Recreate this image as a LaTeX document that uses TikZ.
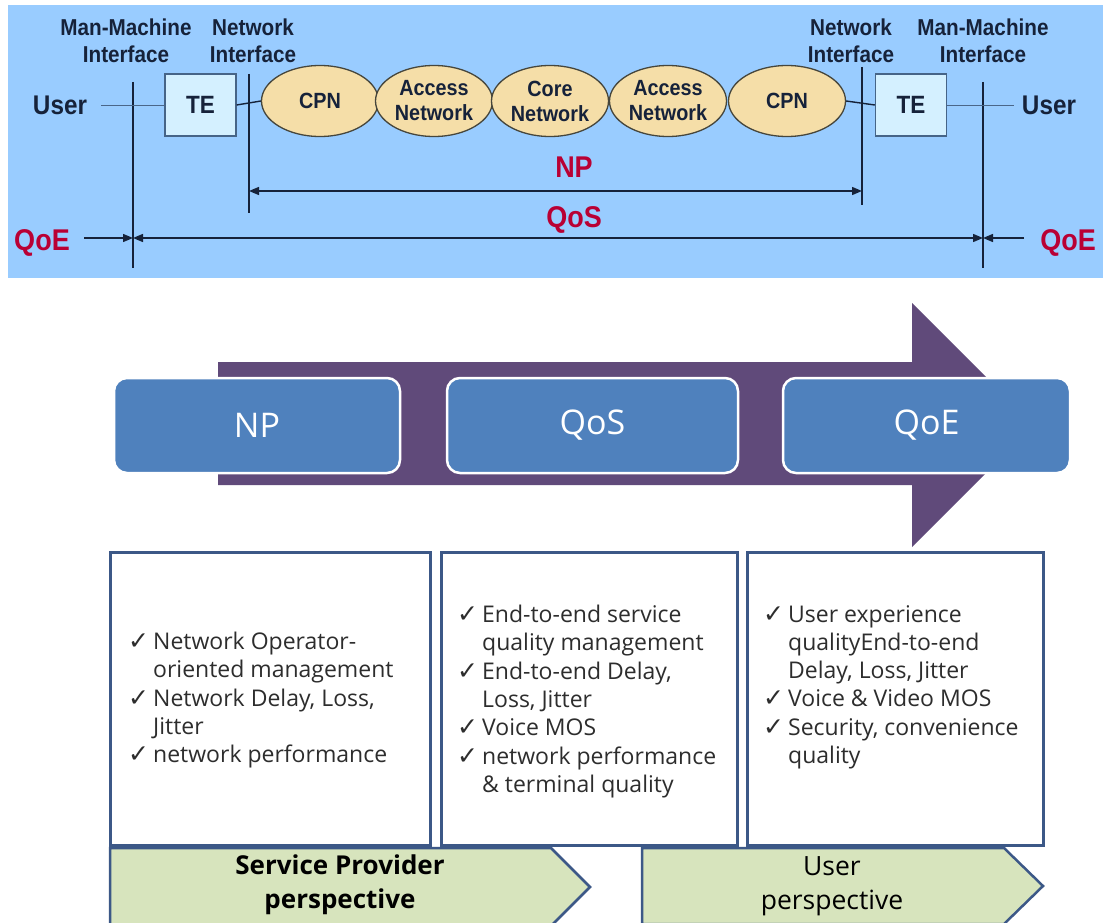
\documentclass[tikz,border=0pt]{standalone}
\usepackage{fontspec}
\usetikzlibrary{shapes.geometric,arrows.meta}
\newfontfamily\condfont[FakeStretch=0.9]{Liberation Sans}
\newfontfamily\bodyfont{Open Sans}
\newfontfamily\symfont{DejaVu Sans}

\definecolor{panel}{RGB}{153,204,255}
\definecolor{ink}{RGB}{22,34,58}
\definecolor{qred}{RGB}{185,0,52}
\definecolor{cloud}{RGB}{245,222,168}
\definecolor{cloudedge}{RGB}{70,70,60}
\definecolor{tefill}{RGB}{212,240,255}
\definecolor{teedge}{RGB}{70,100,135}
\definecolor{flow}{RGB}{96,74,122}
\definecolor{stage}{RGB}{79,129,189}
\definecolor{frame}{RGB}{60,88,135}
\definecolor{leaf}{RGB}{215,228,189}
\definecolor{textgray}{RGB}{45,45,45}

% check-mark bullet and continuation indent for the lists
\newcommand\tick{\makebox[25pt][l]{\symfont\fontsize{25}{25}\selectfont ✓}}
\newcommand\cont{\hspace*{25pt}}

\begin{document}
\begin{tikzpicture}[x=1pt,y=-1pt,
  lbl/.style={font=\condfont\bfseries\fontsize{23}{27}\selectfont, align=center, text=ink, inner sep=0},
  usr/.style={font=\condfont\bfseries\fontsize{27}{30}\selectfont, text=ink, inner sep=0},
  redlbl/.style={font=\condfont\bfseries\fontsize{30}{32}\selectfont, text=qred, inner sep=0},
  netcloud/.style={ellipse, draw=cloudedge, fill=cloud, line width=1.3pt,
    minimum width=117pt, minimum height=71pt, inner sep=0, align=center,
    font=\condfont\bfseries\fontsize{22}{25}\selectfont, text=ink},
  tebox/.style={draw=teedge, fill=tefill, line width=1.4pt, minimum width=71pt, minimum height=62pt,
    inner sep=0, font=\condfont\bfseries\fontsize{25}{25}\selectfont, text=ink},
  rule/.style={draw=ink, line width=1.4pt},
  faint/.style={draw=ink!60!panel, line width=0.9pt},
  conn/.style={draw=ink, line width=1.4pt},
  tip/.style={-{Triangle[length=10pt,width=8pt]}},
  stagebox/.style={rounded corners=13pt, fill=stage, draw=white, line width=2.5pt,
    minimum height=95pt, inner sep=0, text=white,
    font=\bodyfont\fontsize{34}{34}\selectfont},
  detailbox/.style={draw=frame, line width=3pt, fill=white, minimum height=293pt, inner sep=0},
  bullets/.style={anchor=north west, align=left, inner sep=0, text=textgray,
    font=\bodyfont\fontsize{23}{28.3}\selectfont},
  chevron/.style={fill=leaf, draw=frame, line width=2.5pt, line join=miter},
  chevtext/.style={align=center, inner sep=0, text=black,
    font=\bodyfont\fontsize{26.5}{34}\selectfont}]

\useasboundingbox (0,0) rectangle (1103,923);
\clip (0,0) rectangle (1103,923);
\fill[white] (0,0) rectangle (1103,923);

% ---------- reference connection model ----------
\fill[panel] (8,5) rectangle (1103,278);

% interface reference lines
\coordinate (mmiLtop) at (133,82);  \coordinate (mmiLbot) at (133,268);
\coordinate (niLtop)  at (249,74);  \coordinate (niLbot)  at (249,213);
\coordinate (niRtop)  at (862,67);  \coordinate (niRbot)  at (862,205);
\coordinate (mmiRtop) at (983,82);  \coordinate (mmiRbot) at (983,268);
\draw[rule] (mmiLtop) -- (mmiLbot);
\draw[rule] (niLtop) -- (niLbot);
\draw[rule] (niRtop) -- (niRbot);
\draw[rule] (mmiRtop) -- (mmiRbot);

\node[lbl] (mmiLlbl) at (126,41) {Man-Machine\\Interface};
\node[lbl] (niLlbl)  at (253,41) {Network\\Interface};
\node[lbl] (niRlbl)  at (851,41) {Network\\Interface};
\node[lbl] (mmiRlbl) at (983,41) {Man-Machine\\Interface};

\node[usr] (userL) at (60,105) {User};
\node[usr] (userR) at (1049,105) {User};

\node[tebox] (teL) at (200.5,105) {TE};
\node[tebox] (teR) at (911,105) {TE};

\node[netcloud] (cpnL)  at (320,101) {CPN};
\node[netcloud] (accL)  at (434,101) {Access\\Network};
\node[netcloud] (core)  at (550,101) {Core\\Network};
\node[netcloud] (accR)  at (668,101) {Access\\Network};
\node[netcloud] (cpnR)  at (787,101) {CPN};

\draw[faint] ([xshift=14pt]userL.east) -- (teL.west);
\draw[conn] (teL.east) -- (cpnL.west);
\draw[conn] (cpnR.east) -- (teR.west);
\draw[faint] (teR.east) -- ([xshift=-8pt]userR.west);

% performance spans
\node[redlbl] (npLbl)  at (574,167) {NP};
\node[redlbl] (qosLbl) at (574,220) {QoS};
\node[redlbl] (qoeL)   at (42,243) {QoE};
\node[redlbl] (qoeR)   at (1068,243) {QoE};

\coordinate (npA) at (249,191);  \coordinate (npB) at (862,191);
\coordinate (qsA) at (133,238);  \coordinate (qsB) at (983,238);
\coordinate (qeLtail) at (84,238);
\coordinate (qeRtail) at (1024,238);
\draw[conn, {Triangle[length=10pt,width=8pt]}-{Triangle[length=10pt,width=8pt]}] (npA) -- (npB);
\draw[conn, {Triangle[length=10pt,width=8pt]}-{Triangle[length=10pt,width=8pt]}] (qsA) -- (qsB);
\draw[conn, tip] (qeLtail) -- (qsA);
\draw[conn, tip] (qeRtail) -- (qsB);

% ---------- NP -> QoS -> QoE progression ----------
\fill[flow] (218,362) -- (912,362) -- (912,303) -- (1034,425)
  -- (912,547) -- (912,485) -- (218,485) -- cycle;

\node[stagebox, minimum width=286pt] (npStage)  at (257,425.5) {NP};
\node[stagebox, minimum width=291pt] (qosStage) at (592.5,425.5) {QoS};
\node[stagebox, minimum width=287pt] (qoeStage) at (926.5,425.5) {QoE};

% detail columns
\node[detailbox, minimum width=320pt] (npBox)  at (270,698.5) {};
\node[detailbox, minimum width=296pt] (qosBox) at (589,698.5) {};
\node[detailbox, minimum width=296pt] (qoeBox) at (895,698.5) {};

\node[bullets] (npList) at (128,632) {%
\tick Network Operator-\\
\cont oriented management\\
\tick Network Delay, Loss,\\
\cont Jitter\\
\tick network performance};

\node[bullets] (qosList) at (457,605) {%
\tick End-to-end service\\
\cont quality management\\
\tick End-to-end Delay,\\
\cont Loss, Jitter\\
\tick Voice MOS\\
\tick network performance\\
\cont \& terminal quality};

\node[bullets] (qoeList) at (763,605) {%
\tick User experience\\
\cont qualityEnd-to-end\\
\cont Delay, Loss, Jitter\\
\tick Voice \& Video MOS\\
\tick Security, convenience\\
\cont quality};

% perspective banners
\draw[chevron] (110,848) -- (551,848) -- (590,887) -- (551,926) -- (110,926) -- cycle;
\draw[chevron] (642,848) -- (1004,848) -- (1043,886) -- (1004,924) -- (642,924) -- cycle;
\node[chevtext, font=\bodyfont\bfseries\fontsize{26}{34}\selectfont] (spText) at (340,885) {Service Provider\\perspective};
\node[chevtext] (upText) at (832,886) {User\\perspective};

\end{tikzpicture}
\end{document}
